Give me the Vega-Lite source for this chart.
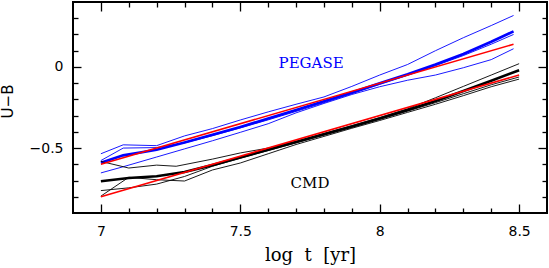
{
  "$schema": "https://vega.github.io/schema/vega-lite/v6.json",
  "width": 474,
  "height": 211,
  "autosize": "none",
  "padding": {"left": 73, "top": 2, "right": 2, "bottom": 55},
  "background": "white",
  "config": {
    "view": {"stroke": "black", "strokeWidth": 2},
    "axis": {"domain": false, "grid": false, "ticks": true, "tickOpacity": 1, "tickWidth": 1.3, "labelColor": "black", "titleColor": "black", "labelOverlap": false, "labelFlush": false}
  },
  "datasets": {
    "tracks": [
      {"model": "PEGASE", "track": "A", "x": 7.0, "y": -0.535},
      {"model": "PEGASE", "track": "A", "x": 7.08, "y": -0.48},
      {"model": "PEGASE", "track": "A", "x": 7.2, "y": -0.485},
      {"model": "PEGASE", "track": "A", "x": 7.3, "y": -0.425},
      {"model": "PEGASE", "track": "A", "x": 7.4, "y": -0.38},
      {"model": "PEGASE", "track": "A", "x": 7.5, "y": -0.327},
      {"model": "PEGASE", "track": "A", "x": 7.6, "y": -0.277},
      {"model": "PEGASE", "track": "A", "x": 7.7, "y": -0.23},
      {"model": "PEGASE", "track": "A", "x": 7.8, "y": -0.185},
      {"model": "PEGASE", "track": "A", "x": 7.9, "y": -0.12},
      {"model": "PEGASE", "track": "A", "x": 8.0, "y": -0.05},
      {"model": "PEGASE", "track": "A", "x": 8.1, "y": 0.015},
      {"model": "PEGASE", "track": "A", "x": 8.2, "y": 0.1},
      {"model": "PEGASE", "track": "A", "x": 8.3, "y": 0.18},
      {"model": "PEGASE", "track": "A", "x": 8.4, "y": 0.255},
      {"model": "PEGASE", "track": "A", "x": 8.48, "y": 0.317},
      {"model": "PEGASE", "track": "B", "x": 7.0, "y": -0.577},
      {"model": "PEGASE", "track": "B", "x": 7.08, "y": -0.5},
      {"model": "PEGASE", "track": "B", "x": 7.2, "y": -0.497},
      {"model": "PEGASE", "track": "B", "x": 7.3, "y": -0.468},
      {"model": "PEGASE", "track": "B", "x": 7.4, "y": -0.424},
      {"model": "PEGASE", "track": "B", "x": 7.5, "y": -0.376},
      {"model": "PEGASE", "track": "B", "x": 7.6, "y": -0.326},
      {"model": "PEGASE", "track": "B", "x": 7.7, "y": -0.274},
      {"model": "PEGASE", "track": "B", "x": 7.8, "y": -0.22},
      {"model": "PEGASE", "track": "B", "x": 7.9, "y": -0.165},
      {"model": "PEGASE", "track": "B", "x": 8.0, "y": -0.108},
      {"model": "PEGASE", "track": "B", "x": 8.1, "y": -0.052},
      {"model": "PEGASE", "track": "B", "x": 8.2, "y": 0.008},
      {"model": "PEGASE", "track": "B", "x": 8.3, "y": 0.07},
      {"model": "PEGASE", "track": "B", "x": 8.4, "y": 0.14},
      {"model": "PEGASE", "track": "B", "x": 8.48, "y": 0.2},
      {"model": "PEGASE", "track": "C", "x": 7.0, "y": -0.653},
      {"model": "PEGASE", "track": "C", "x": 7.08, "y": -0.615},
      {"model": "PEGASE", "track": "C", "x": 7.2, "y": -0.555},
      {"model": "PEGASE", "track": "C", "x": 7.3, "y": -0.505},
      {"model": "PEGASE", "track": "C", "x": 7.4, "y": -0.455},
      {"model": "PEGASE", "track": "C", "x": 7.5, "y": -0.403},
      {"model": "PEGASE", "track": "C", "x": 7.6, "y": -0.35},
      {"model": "PEGASE", "track": "C", "x": 7.7, "y": -0.283},
      {"model": "PEGASE", "track": "C", "x": 7.8, "y": -0.225},
      {"model": "PEGASE", "track": "C", "x": 7.9, "y": -0.17},
      {"model": "PEGASE", "track": "C", "x": 8.0, "y": -0.122},
      {"model": "PEGASE", "track": "C", "x": 8.1, "y": -0.082},
      {"model": "PEGASE", "track": "C", "x": 8.2, "y": -0.05},
      {"model": "PEGASE", "track": "C", "x": 8.3, "y": -0.005},
      {"model": "PEGASE", "track": "C", "x": 8.4, "y": 0.045},
      {"model": "PEGASE", "track": "C", "x": 8.48, "y": 0.112},
      {"model": "PEGASE", "track": "T", "x": 7.0, "y": -0.59},
      {"model": "PEGASE", "track": "T", "x": 7.08, "y": -0.545},
      {"model": "PEGASE", "track": "T", "x": 7.2, "y": -0.51},
      {"model": "PEGASE", "track": "T", "x": 7.3, "y": -0.465},
      {"model": "PEGASE", "track": "T", "x": 7.4, "y": -0.418},
      {"model": "PEGASE", "track": "T", "x": 7.5, "y": -0.37},
      {"model": "PEGASE", "track": "T", "x": 7.6, "y": -0.318},
      {"model": "PEGASE", "track": "T", "x": 7.7, "y": -0.266},
      {"model": "PEGASE", "track": "T", "x": 7.8, "y": -0.212},
      {"model": "PEGASE", "track": "T", "x": 7.9, "y": -0.158},
      {"model": "PEGASE", "track": "T", "x": 8.0, "y": -0.1},
      {"model": "PEGASE", "track": "T", "x": 8.1, "y": -0.045},
      {"model": "PEGASE", "track": "T", "x": 8.2, "y": 0.015},
      {"model": "PEGASE", "track": "T", "x": 8.3, "y": 0.08},
      {"model": "PEGASE", "track": "T", "x": 8.4, "y": 0.155},
      {"model": "PEGASE", "track": "T", "x": 8.48, "y": 0.219},
      {"model": "CMD", "track": "U", "x": 7.0, "y": -0.582},
      {"model": "CMD", "track": "U", "x": 7.1, "y": -0.623},
      {"model": "CMD", "track": "U", "x": 7.2, "y": -0.605},
      {"model": "CMD", "track": "U", "x": 7.27, "y": -0.612},
      {"model": "CMD", "track": "U", "x": 7.4, "y": -0.568},
      {"model": "CMD", "track": "U", "x": 7.5, "y": -0.53},
      {"model": "CMD", "track": "U", "x": 7.6, "y": -0.5},
      {"model": "CMD", "track": "U", "x": 7.7, "y": -0.458},
      {"model": "CMD", "track": "U", "x": 7.8, "y": -0.41},
      {"model": "CMD", "track": "U", "x": 7.9, "y": -0.362},
      {"model": "CMD", "track": "U", "x": 8.0, "y": -0.312},
      {"model": "CMD", "track": "U", "x": 8.1, "y": -0.258},
      {"model": "CMD", "track": "U", "x": 8.2, "y": -0.19},
      {"model": "CMD", "track": "U", "x": 8.3, "y": -0.12},
      {"model": "CMD", "track": "U", "x": 8.4, "y": -0.05},
      {"model": "CMD", "track": "U", "x": 8.5, "y": 0.02},
      {"model": "CMD", "track": "D", "x": 7.0, "y": -0.762},
      {"model": "CMD", "track": "D", "x": 7.1, "y": -0.745},
      {"model": "CMD", "track": "D", "x": 7.2, "y": -0.722},
      {"model": "CMD", "track": "D", "x": 7.3, "y": -0.675},
      {"model": "CMD", "track": "D", "x": 7.4, "y": -0.612},
      {"model": "CMD", "track": "D", "x": 7.5, "y": -0.562},
      {"model": "CMD", "track": "D", "x": 7.6, "y": -0.515},
      {"model": "CMD", "track": "D", "x": 7.7, "y": -0.468},
      {"model": "CMD", "track": "D", "x": 7.8, "y": -0.42},
      {"model": "CMD", "track": "D", "x": 7.9, "y": -0.372},
      {"model": "CMD", "track": "D", "x": 8.0, "y": -0.322},
      {"model": "CMD", "track": "D", "x": 8.1, "y": -0.272},
      {"model": "CMD", "track": "D", "x": 8.2, "y": -0.22},
      {"model": "CMD", "track": "D", "x": 8.3, "y": -0.165},
      {"model": "CMD", "track": "D", "x": 8.4, "y": -0.11},
      {"model": "CMD", "track": "D", "x": 8.5, "y": -0.062},
      {"model": "CMD", "track": "E", "x": 7.0, "y": -0.796},
      {"model": "CMD", "track": "E", "x": 7.1, "y": -0.68},
      {"model": "CMD", "track": "E", "x": 7.2, "y": -0.695},
      {"model": "CMD", "track": "E", "x": 7.3, "y": -0.703},
      {"model": "CMD", "track": "E", "x": 7.4, "y": -0.635},
      {"model": "CMD", "track": "E", "x": 7.5, "y": -0.592},
      {"model": "CMD", "track": "E", "x": 7.6, "y": -0.535},
      {"model": "CMD", "track": "E", "x": 7.7, "y": -0.478},
      {"model": "CMD", "track": "E", "x": 7.8, "y": -0.428},
      {"model": "CMD", "track": "E", "x": 7.9, "y": -0.378},
      {"model": "CMD", "track": "E", "x": 8.0, "y": -0.33},
      {"model": "CMD", "track": "E", "x": 8.1, "y": -0.28},
      {"model": "CMD", "track": "E", "x": 8.2, "y": -0.23},
      {"model": "CMD", "track": "E", "x": 8.3, "y": -0.177},
      {"model": "CMD", "track": "E", "x": 8.4, "y": -0.122},
      {"model": "CMD", "track": "E", "x": 8.5, "y": -0.075},
      {"model": "CMD", "track": "T", "x": 7.0, "y": -0.704},
      {"model": "CMD", "track": "T", "x": 7.1, "y": -0.684},
      {"model": "CMD", "track": "T", "x": 7.2, "y": -0.674},
      {"model": "CMD", "track": "T", "x": 7.3, "y": -0.648},
      {"model": "CMD", "track": "T", "x": 7.4, "y": -0.605},
      {"model": "CMD", "track": "T", "x": 7.5, "y": -0.558},
      {"model": "CMD", "track": "T", "x": 7.6, "y": -0.51},
      {"model": "CMD", "track": "T", "x": 7.7, "y": -0.463},
      {"model": "CMD", "track": "T", "x": 7.8, "y": -0.415},
      {"model": "CMD", "track": "T", "x": 7.9, "y": -0.367},
      {"model": "CMD", "track": "T", "x": 8.0, "y": -0.318},
      {"model": "CMD", "track": "T", "x": 8.1, "y": -0.265},
      {"model": "CMD", "track": "T", "x": 8.2, "y": -0.21},
      {"model": "CMD", "track": "T", "x": 8.3, "y": -0.148},
      {"model": "CMD", "track": "T", "x": 8.4, "y": -0.085},
      {"model": "CMD", "track": "T", "x": 8.5, "y": -0.02}
    ],
    "fits": [
      {"model": "PEGASE", "x": 7.0, "y": -0.6},
      {"model": "PEGASE", "x": 8.48, "y": 0.14},
      {"model": "CMD", "x": 7.0, "y": -0.8},
      {"model": "CMD", "x": 8.5, "y": -0.05}
    ],
    "labels": [
      {"label": "PEGASE", "x": 7.754, "y": 0.027},
      {"label": "CMD", "x": 7.75, "y": -0.718}
    ]
  },
  "layer": [
    {
      "data": {"name": "tracks"},
      "transform": [{"filter": "datum.model === 'PEGASE' && datum.track !== 'T'"}],
      "mark": {"type": "line", "color": "#0000ff", "strokeWidth": 0.9},
      "encoding": {
        "x": {"field": "x", "type": "quantitative", "scale": {"domain": [6.9, 8.6], "nice": false, "zero": false},
          "axis": {"orient": "bottom", "values": [7, 7.5, 8, 8.5], "format": "~g", "ticks": false, "labelPadding": 11, "labelFont": "DejaVu Sans", "labelFontSize": 14,
            "title": "log\u00a0\u00a0t\u00a0\u00a0[yr]", "titleFont": "DejaVu Serif", "titleFontSize": 18, "titleFontWeight": "normal", "titlePadding": 8}},
        "y": {"field": "y", "type": "quantitative", "scale": {"domain": [-0.9, 0.4], "nice": false, "zero": false},
          "axis": {"orient": "left", "values": [-0.5, 0], "format": "~g", "ticks": false, "labelPadding": 10, "labelFont": "DejaVu Sans", "labelFontSize": 14,
            "title": "U\u2212B", "titleFont": "DejaVu Sans", "titleFontSize": 15, "titleFontWeight": "normal", "titlePadding": 14, "titleY": 99}},
        "detail": {"field": "track"}
      }
    },
    {
      "data": {"name": "tracks"},
      "transform": [{"filter": "datum.model === 'PEGASE' && datum.track === 'T'"}],
      "mark": {"type": "line", "color": "#0000ff", "strokeWidth": 2.6},
      "encoding": {
        "x": {"field": "x", "type": "quantitative", "scale": {"domain": [6.9, 8.6], "nice": false, "zero": false},
          "axis": {"orient": "bottom", "values": [7, 7.5, 8, 8.5], "offset": -9, "tickSize": 9, "tickColor": "black", "labels": false, "title": null}},
        "y": {"field": "y", "type": "quantitative", "scale": {"domain": [-0.9, 0.4], "nice": false, "zero": false},
          "axis": {"orient": "left", "values": [-0.5, 0], "offset": -8, "tickSize": 8, "tickColor": "black", "labels": false, "title": null}}
      }
    },
    {
      "data": {"name": "tracks"},
      "transform": [{"filter": "datum.model === 'CMD' && datum.track !== 'T'"}],
      "mark": {"type": "line", "color": "#000000", "strokeWidth": 0.9},
      "encoding": {
        "x": {"field": "x", "type": "quantitative", "scale": {"domain": [6.9, 8.6], "nice": false, "zero": false},
          "axis": {"orient": "bottom", "values": [7.1, 7.2, 7.3, 7.4, 7.6, 7.7, 7.8, 7.9, 8.1, 8.2, 8.3, 8.4], "offset": -5, "tickSize": 5, "tickColor": "black", "labels": false, "title": null}},
        "y": {"field": "y", "type": "quantitative", "scale": {"domain": [-0.9, 0.4], "nice": false, "zero": false},
          "axis": {"orient": "left", "values": [-0.8, -0.7, -0.6, -0.4, -0.3, -0.2, -0.1, 0.1, 0.2, 0.3], "offset": -5, "tickSize": 5, "tickColor": "black", "labels": false, "title": null}},
        "detail": {"field": "track"}
      }
    },
    {
      "data": {"name": "tracks"},
      "transform": [{"filter": "datum.model === 'CMD' && datum.track === 'T'"}],
      "mark": {"type": "line", "color": "#000000", "strokeWidth": 2.6},
      "encoding": {
        "x": {"field": "x", "type": "quantitative", "scale": {"domain": [6.9, 8.6], "nice": false, "zero": false},
          "axis": {"orient": "top", "values": [7, 7.5, 8, 8.5], "offset": -9, "tickSize": 9, "tickColor": "black", "labels": false, "title": null}},
        "y": {"field": "y", "type": "quantitative", "scale": {"domain": [-0.9, 0.4], "nice": false, "zero": false},
          "axis": {"orient": "right", "values": [-0.5, 0], "offset": -9, "tickSize": 9, "tickColor": "black", "labels": false, "title": null}}
      }
    },
    {
      "data": {"name": "fits"},
      "mark": {"type": "line", "color": "#ff0000", "strokeWidth": 1.6},
      "encoding": {
        "x": {"field": "x", "type": "quantitative", "scale": {"domain": [6.9, 8.6], "nice": false, "zero": false},
          "axis": {"orient": "top", "values": [7.1, 7.2, 7.3, 7.4, 7.6, 7.7, 7.8, 7.9, 8.1, 8.2, 8.3, 8.4], "offset": -5, "tickSize": 5, "tickColor": "black", "labels": false, "title": null}},
        "y": {"field": "y", "type": "quantitative", "scale": {"domain": [-0.9, 0.4], "nice": false, "zero": false},
          "axis": {"orient": "right", "values": [-0.8, -0.7, -0.6, -0.4, -0.3, -0.2, -0.1, 0.1, 0.2, 0.3], "offset": -5, "tickSize": 5, "tickColor": "black", "labels": false, "title": null}},
        "detail": {"field": "model"}
      }
    },
    {
      "data": {"name": "labels"},
      "mark": {"type": "text", "font": "DejaVu Serif", "fontSize": 15, "align": "center", "baseline": "middle"},
      "encoding": {
        "x": {"field": "x", "type": "quantitative", "axis": null},
        "y": {"field": "y", "type": "quantitative", "axis": null},
        "text": {"field": "label"},
        "color": {"field": "label", "type": "nominal", "scale": {"domain": ["PEGASE", "CMD"], "range": ["#0000ff", "#000000"]}, "legend": null}
      }
    }
  ],
  "resolve": {"axis": {"x": "independent", "y": "independent"}}
}
